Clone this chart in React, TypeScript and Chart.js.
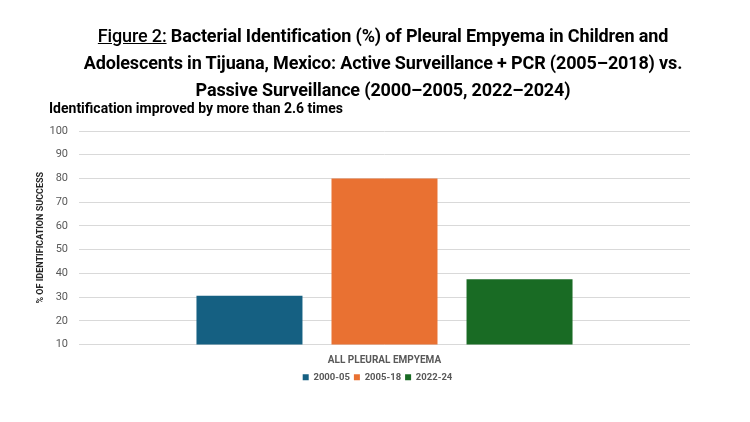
import React, { useEffect, useRef } from "react";
import { Chart, registerables } from "chart.js";

Chart.register(...registerables);

const categories = ["ALL PLEURAL EMPYEMA"];
const seriesLabels = ["2000-05", "2005-18", "2022-24"];
const series2000_05 = [30.5];
const series2005_18 = [80];
const series2022_24 = [37.5];
const seriesColors = ["#156082", "#E97132", "#196B24"];
const yMin = 10;
const yMax = 100;
const yStep = 10;

const titleFont = 'Roboto, "Liberation Sans", sans-serif';
const bodyFont = 'Roboto, "Liberation Sans", sans-serif';

const legendShift = {
  id: "legendShift",
  afterLayout(chart: any) {
    if (chart.legend) {
      chart.legend.left += 15;
      chart.legend.right += 15;
    }
  },
};

export default function App() {
  const ref = useRef<HTMLCanvasElement | null>(null);

  useEffect(() => {
    if (!ref.current) return;
    const values = [series2000_05, series2005_18, series2022_24];
    const chart = new Chart(ref.current, {
      type: "bar",
      data: {
        labels: categories,
        datasets: seriesLabels.map((label, i) => ({
          label,
          data: values[i],
          backgroundColor: seriesColors[i],
          borderWidth: 0,
          barPercentage: 0.785,
          categoryPercentage: 0.663,
        })),
      },
      options: {
        animation: false,
        responsive: false,
        maintainAspectRatio: false,
        layout: { padding: { top: 131, left: 35, right: 60, bottom: 30 } },
        plugins: {
          legend: {
            position: "bottom",
            labels: {
              boxWidth: 6,
              boxHeight: 6,
              padding: 4,
              color: "#595959",
              font: { family: bodyFont, size: 9.5, weight: "bold" },
            },
          },
          title: { display: false },
          tooltip: { enabled: false },
        },
        scales: {
          x: {
            grid: { display: false },
            border: { display: false },
            ticks: {
              color: "#595959",
              font: { family: bodyFont, size: 10, weight: "bold" },
              padding: 2,
            },
          },
          y: {
            min: yMin,
            max: yMax,
            ticks: {
              stepSize: yStep,
              color: "#595959",
              font: { family: bodyFont, size: 11 },
              padding: 11,
            },
            grid: { color: "#d9d9d9", drawTicks: false },
            border: { display: false },
            title: {
              display: true,
              text: "% OF IDENTIFICATION SUCCESS",
              color: "#262626",
              font: { family: bodyFont, size: 9, weight: "bold" },
              padding: { top: 0, bottom: 14 },
            },
            afterFit: (scale: any) => {
              scale.width = 44;
            },
          },
        },
      },
      plugins: [legendShift],
    });
    return () => chart.destroy();
  }, []);

  return (
    <div style={{ position: "fixed", left: 0, top: 0, width: 750, height: 422, background: "#fff" }}>
      <canvas ref={ref} width={750} height={422} style={{ position: "absolute", left: 0, top: 0 }} />
      <div
        style={{
          position: "absolute",
          left: 8,
          top: 22,
          width: 750,
          textAlign: "center",
          fontFamily: titleFont,
          fontWeight: "bold",
          fontSize: 18,
          letterSpacing: "-0.15px",
          lineHeight: "27px",
          color: "#000",
        }}
      >
        <span style={{ textDecoration: "underline", fontWeight: 500 }}>Figure 2:</span> Bacterial Identification (%) of Pleural Empyema in Children and
        <br />
        Adolescents in Tijuana, Mexico: Active Surveillance + PCR (2005–2018) vs.
        <br />
        Passive Surveillance (2000–2005, 2022–2024)
      </div>
      <div
        style={{
          position: "absolute",
          left: 49,
          top: 100,
          fontFamily: bodyFont,
          fontWeight: "bold",
          fontSize: 14,
          color: "#000",
          whiteSpace: "nowrap",
        }}
      >
        Identification improved by more than 2.6 times
      </div>
    </div>
  );
}
